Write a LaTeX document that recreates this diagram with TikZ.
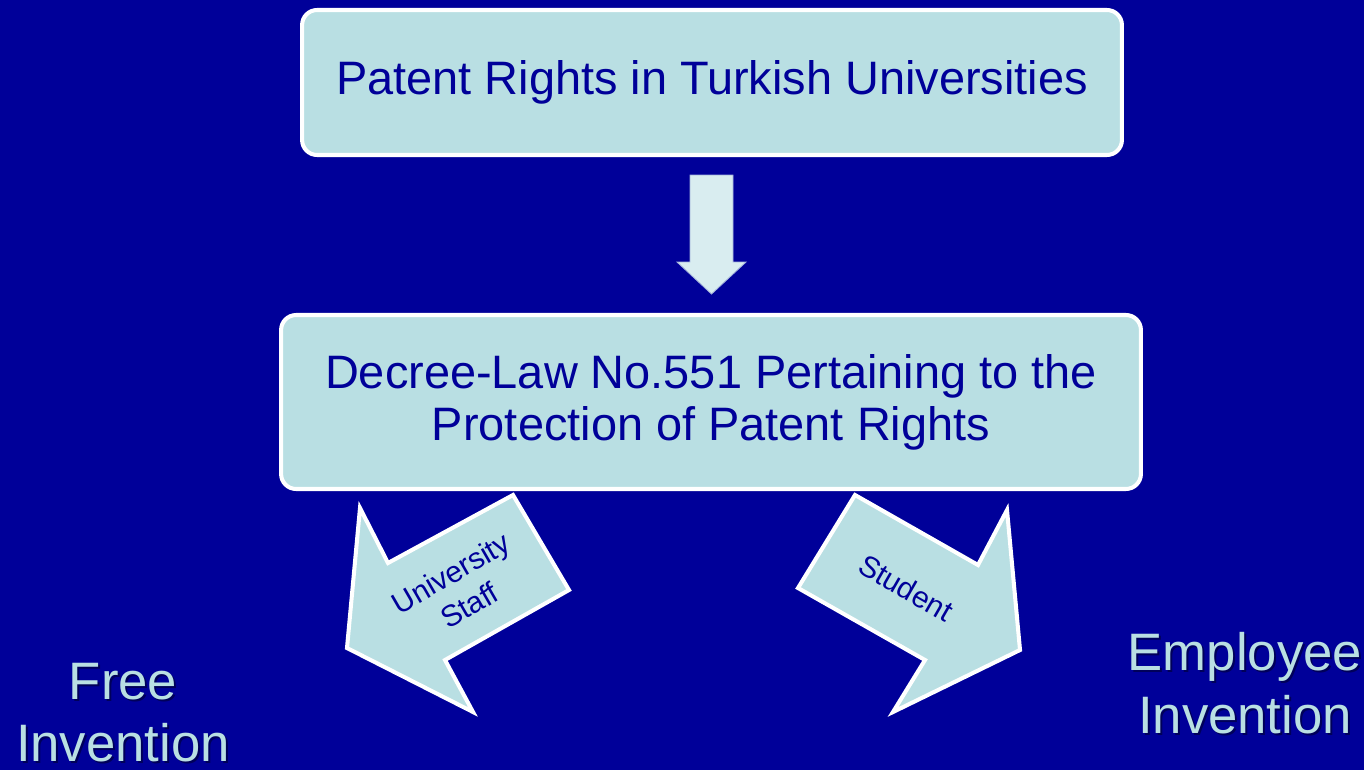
\documentclass[tikz,border=0pt]{standalone}
\usepackage{fontspec}
\setmainfont{Liberation Sans}
\usetikzlibrary{calc}
\definecolor{slidebg}{RGB}{0,0,153}
\definecolor{boxfill}{RGB}{185,223,227}
\definecolor{arrowfill}{RGB}{217,237,240}
\definecolor{shadowblue}{RGB}{0,0,90}
\tikzstyle{titlebox} = [rectangle, rounded corners=0.3cm, draw=white, line width=2.3pt, fill=boxfill, text=slidebg, align=center, font=\fontsize{26.7}{29.6}\selectfont]
\tikzstyle{downarrow} = [fill=arrowfill, draw=arrowfill!75!slidebg, line width=0.5pt]
\tikzstyle{sidearrow} = [fill=boxfill, draw=white, line width=2.3pt]
\tikzstyle{arrowlabel} = [text=slidebg, align=center, font=\fontsize{17}{21}\selectfont]
\tikzstyle{result} = [text=boxfill, align=center, font=\fontsize{30}{35.7}\selectfont]
\tikzstyle{resultshadow} = [result, text=shadowblue]

\begin{document}
\begin{tikzpicture}[x=0.02cm, y=-0.02cm]
        \fill[slidebg] (0,0) rectangle (1364,770);
        \useasboundingbox (0,0) rectangle (1364,770);

        \node (patent) [titlebox, minimum width=16.4cm, minimum height=2.9cm] at (712,82.5) {Patent Rights in Turkish Universities};
        \node (decree) [titlebox, minimum width=17.2cm, minimum height=3.48cm] at (711,402) {Decree-Law No.551 Pertaining to the\\Protection of Patent Rights};

        \draw [downarrow] ($(patent.south)+(-22,18)$) -- ++(43,0) -- ++(0,87) -- ++(13,0) -- ++(-34.5,32) -- ++(-34.5,-32) -- ++(13,0) -- cycle;

        % branch arrows
        \draw [sidearrow] (513,495) -- (569,590) -- (445,660) -- (473,712) -- (347,648) -- (360,508) -- (388,563) -- cycle;
        \draw [sidearrow] (855,495) -- (978,565) -- (1007,510) -- (1020,650) -- (893,712) -- (925,660) -- (798,588) -- cycle;
        \node (staff) [arrowlabel, rotate=30] at (460,589) {University\\Staff};
        \node (student) [arrowlabel, rotate=-30] at (906,588) {Student};

        \node (free-shadow) [resultshadow] at (125,714.5) {Free\\Invention};
        \node (free) [result] at (123,712.5) {Free\\Invention};
        \node (employee-shadow) [resultshadow] at (1247,685) {Employee\\Invention};
        \node (employee) [result] at (1245,683) {Employee\\Invention};
    \end{tikzpicture}
\end{document}
